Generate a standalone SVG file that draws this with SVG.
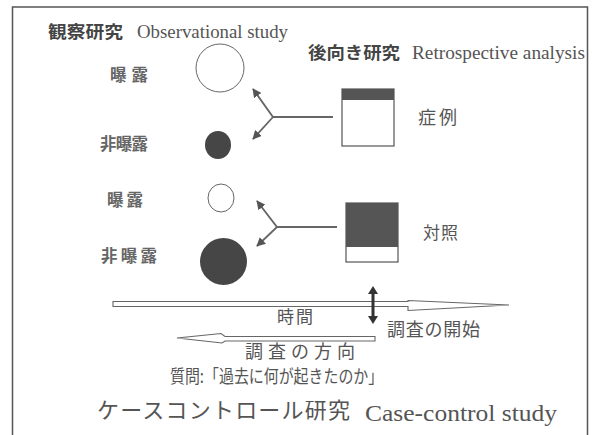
<svg xmlns="http://www.w3.org/2000/svg" width="595" height="435" viewBox="0 0 595 435">
  <defs>
    <marker id="ah" viewBox="0 0 10 10" refX="9" refY="5" markerWidth="5" markerHeight="5" orient="auto" markerUnits="strokeWidth">
      <path d="M0,0 L10,5 L0,10 Z" fill="#555"/>
    </marker>
    <style>
      .jp { font-family: "Noto Sans CJK JP", "Noto Sans", sans-serif; fill: #555; }
      .jpb { font-family: "Noto Sans CJK JP", "Noto Sans", sans-serif; fill: #444; font-weight: bold; }
      .lat { font-family: "Liberation Serif", "Times New Roman", serif; fill: #555; }
      .lbl { font-size: 16.5px; font-weight: bold; fill: #666; }
      .fork { fill: none; stroke: #666; stroke-width: 1.8; }
      .hollow { fill: #fff; stroke: #666; stroke-width: 1.1; }
    </style>
  </defs>
  <rect width="595" height="435" fill="#fff"/>
  <path d="M12.5,435 V7 H587.5 V435" fill="none" stroke="#555" stroke-width="1.5"/>

  <g id="titles">
    <text class="jpb" x="48" y="38" font-size="17" textLength="75" lengthAdjust="spacingAndGlyphs">観察研究</text>
    <text class="lat" x="137" y="38" font-size="18" textLength="151" lengthAdjust="spacingAndGlyphs">Observational study</text>
    <text class="jpb" x="308" y="59" font-size="17" textLength="92" lengthAdjust="spacingAndGlyphs">後向き研究</text>
    <text class="lat" x="412" y="59" font-size="18" textLength="173" lengthAdjust="spacingAndGlyphs">Retrospective analysis</text>
  </g>

  <g id="exposed1">
    <text class="jp lbl" x="110" y="81" textLength="38">曝露</text>
    <circle cx="220" cy="68" r="24" fill="#fff" stroke="#666" stroke-width="1"/>
  </g>
  <g id="unexposed1">
    <text class="jp lbl" x="100" y="150" textLength="48">非曝露</text>
    <ellipse cx="218" cy="145" rx="13" ry="14" fill="#464646"/>
  </g>
  <g id="exposed2">
    <text class="jp lbl" x="107" y="206" textLength="36">曝露</text>
    <ellipse cx="221" cy="198" rx="13" ry="14" fill="#fff" stroke="#666" stroke-width="1"/>
  </g>
  <g id="unexposed2">
    <text class="jp lbl" x="101" y="262" textLength="56">非曝露</text>
    <circle cx="223.5" cy="261.5" r="23.5" fill="#464646"/>
  </g>

  <g id="cases">
    <rect x="342" y="89" width="52" height="57" fill="#fff" stroke="#555" stroke-width="1.2"/>
    <rect x="342" y="89" width="52" height="11" fill="#555"/>
    <text class="jp" x="418" y="124" font-size="18" textLength="39">症例</text>
  </g>
  <g id="controls">
    <rect x="346" y="203" width="52" height="59" fill="#fff" stroke="#555" stroke-width="1.2"/>
    <rect x="346" y="203" width="52" height="44" fill="#555"/>
    <text class="jp" x="423" y="239" font-size="17" textLength="35">対照</text>
  </g>

  <g id="connectors">
    <path class="fork" d="M333,117 H273 L253,89" marker-end="url(#ah)"/>
    <path class="fork" d="M273,117 L253,139" marker-end="url(#ah)"/>
    <path class="fork" d="M337,227 H277 L257,201" marker-end="url(#ah)"/>
    <path class="fork" d="M277,227 L257,246" marker-end="url(#ah)"/>
  </g>

  <g id="time-axis">
    <path class="hollow" d="M113,301.5 H408 V300.5 L509,305 L408,310.5 V306.5 H113 Z"/>
    <text class="jp" x="277" y="323" font-size="17" textLength="36">時間</text>
  </g>

  <g id="survey-start">
    <path d="M373,286 L378,294 L374.5,294 L374.5,316 L378,316 L373,324 L368,316 L371.5,316 L371.5,294 L368,294 Z" fill="#333"/>
    <text class="jp" x="387" y="336" font-size="18" textLength="93">調査の開始</text>
  </g>

  <g id="survey-direction">
    <path class="hollow" d="M177,338 L221,333.5 L225,336.5 H375 V341 H225 L222,343 Z"/>
    <text class="jp" x="245" y="358" font-size="18" textLength="110">調査の方向</text>
  </g>

  <g id="footer">
    <text class="jp" transform="translate(170,383) scale(0.83,1)" x="0" y="0" font-size="18">質問:「過去に何が起きたのか」</text>
    <text class="jp" x="97" y="418" font-size="22" textLength="253">ケースコントロール研究</text>
    <text class="lat" x="365" y="421" font-size="24" textLength="192" lengthAdjust="spacingAndGlyphs">Case-control study</text>
  </g>
</svg>
